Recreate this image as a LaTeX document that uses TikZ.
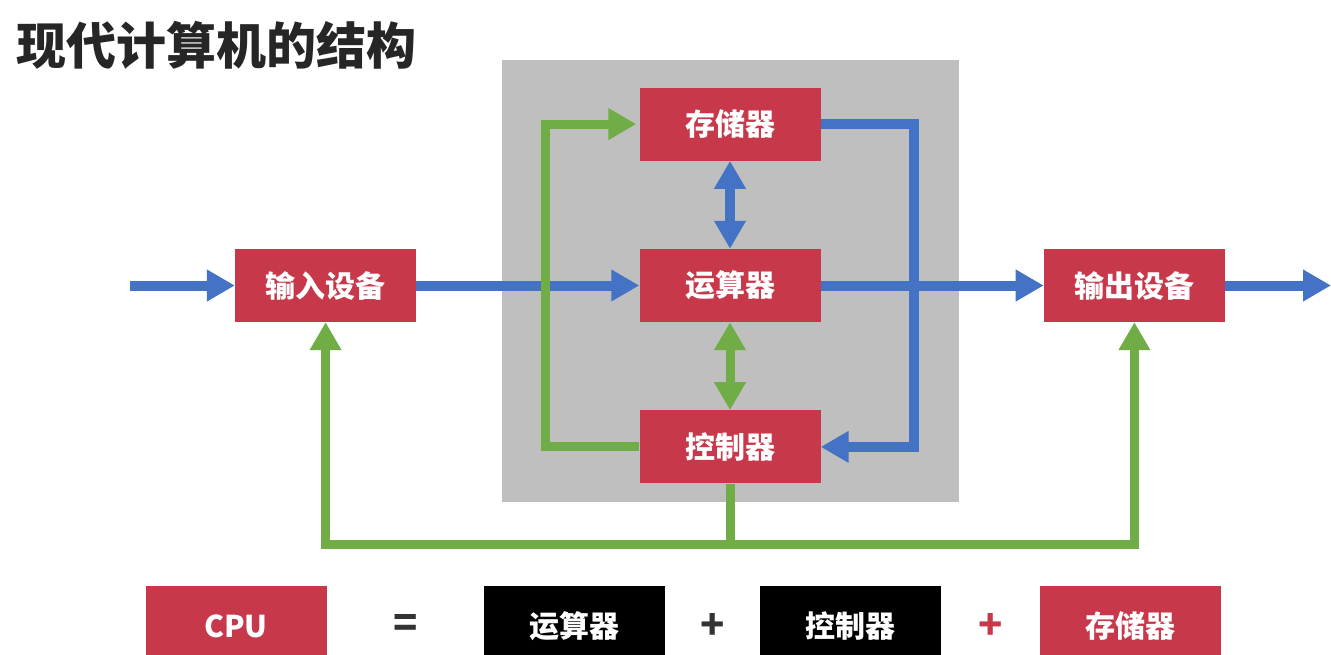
\documentclass[tikz,border=0pt]{standalone}
\usepackage{fontspec}
\setmainfont{Noto Sans CJK SC}
\usetikzlibrary{arrows.meta, positioning, calc}
\definecolor{boxred}{RGB}{199,56,74}
\definecolor{busblue}{RGB}{68,114,196}
\definecolor{ctlgreen}{RGB}{112,173,71}
\definecolor{cpugray}{RGB}{191,191,191}
\newcommand{\boxfont}{\bfseries\fontsize{30}{34}\selectfont}
\tikzstyle{unit} = [rectangle, minimum width=181pt, minimum height=73pt, text centered, fill=boxred, text=white, font=\boxfont]
\tikzstyle{cpupart} = [unit, minimum height=80pt, fill=black]
\tikzstyle{op} = [font=\bfseries\fontsize{40}{40}\selectfont, text=black!80]
\tikzstyle{busarrow} = [line width=10pt, draw=busblue, -{Triangle[length=28pt,width=30pt]}]
\tikzstyle{busboth} = [line width=10pt, draw=busblue, {Triangle[length=28pt,width=30pt]}-{Triangle[length=28pt,width=30pt]}]
\tikzstyle{ctlline} = [line width=9pt, draw=ctlgreen]
\tikzstyle{ctlarrow} = [ctlline, -{Triangle[length=28pt,width=30pt]}]
\tikzstyle{ctlboth} = [ctlline, {Triangle[length=28pt,width=30pt]}-{Triangle[length=28pt,width=30pt]}]

\begin{document}
\begin{tikzpicture}[x=1pt, y=-1pt, node distance=88pt]

\useasboundingbox (0,0) rectangle (1331,654);
\fill[white] (0,0) rectangle (1331,654);

\node (title) [anchor=west, font=\bfseries\fontsize{50}{54}\selectfont, text=black!85] at (13,45) {现代计算机的结构};

% CPU area
\fill[cpugray] (502,60) rectangle (959,502);

\node (alu) [unit] at (730,285.5) {运算器};
\node (mem) [unit, above=of alu] {存储器};
\node (ctrl) [unit, below=of alu] {控制器};
\node (in) [unit, left=223pt of alu] {输入设备};
\node (out) [unit, right=223pt of alu] {输出设备};

\coordinate (src) at (130,285.5);
\coordinate (sink) at (1331,285.5);

% data flow
\draw [busarrow] (src) -- (in);
\draw [busarrow] (in) -- (alu);
\draw [busarrow] (alu) -- (out);
\draw [busarrow] (out) -- (sink);
\draw [busboth] (mem) -- (alu);
\draw [busarrow] (mem.east) -- ++(93,0) |- (ctrl.east);

% control flow
\draw [ctlboth] (alu) -- (ctrl);
\draw [ctlarrow, shorten >=3pt] (ctrl.west) -- ++(-94,0) |- (mem.west);
\draw [ctlline] (ctrl.south) -- ++(0,61) coordinate (bus);
\draw [ctlarrow] (bus) -| (in.south);
\draw [ctlarrow] (bus) -| (out.south);

% CPU = ALU + CU + memory
\node (cpu) [unit, minimum height=80pt, anchor=north] at (236,586) {CPU};
\node (alu2) [cpupart, right=157pt of cpu] {运算器};
\node (ctrl2) [cpupart, right=95pt of alu2] {控制器};
\node (mem2) [unit, minimum height=80pt, right=98pt of ctrl2] {存储器};
\node (eq) [op] at ($(cpu.east)!0.5!(alu2.west)$) {=};
\node (plus1) [op] at ($(alu2.east)!0.5!(ctrl2.west)$) {+};
\node (plus2) [op, text=boxred] at ($(ctrl2.east)!0.5!(mem2.west)$) {+};

\end{tikzpicture}
\end{document}
